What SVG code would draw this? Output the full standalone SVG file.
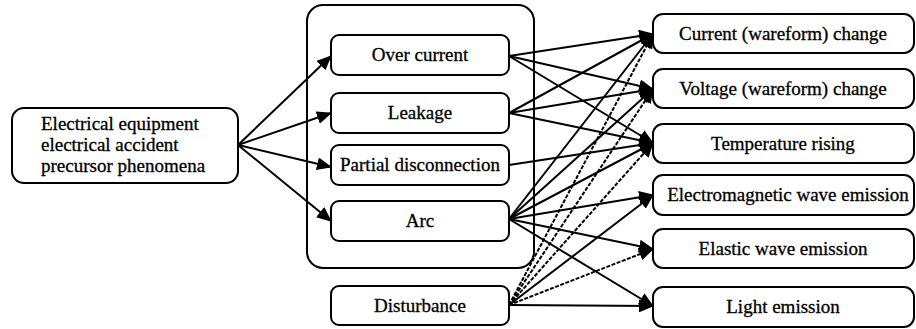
<svg xmlns="http://www.w3.org/2000/svg" width="916" height="329" viewBox="0 0 916 329">
<style>
.box{fill:#fff;stroke:#000;stroke-width:2}
.t{font-family:"Liberation Serif","DejaVu Serif","Noto Serif",Times,serif;font-size:19px;fill:#000;stroke:#000;stroke-width:0.3}
.c{text-anchor:middle}
.e{stroke:#000;stroke-width:2;fill:none;marker-end:url(#ah)}
.d{stroke-dasharray:4 1.5}
</style>
<defs>
<marker id="ah" markerUnits="userSpaceOnUse" markerWidth="15" markerHeight="13" refX="14" refY="6.5" orient="auto">
<path d="M0,0 L15,6.5 L0,13 z" fill="#000"/>
</marker>
</defs>
<rect id="container" class="box" x="307" y="5" width="227" height="263" rx="16"/>
<g id="source">
<rect class="box" x="12" y="108" width="226" height="75" rx="12"/>
<text class="t" x="41" y="130">Electrical equipment</text>
<text class="t" x="41" y="151">electrical accident</text>
<text class="t" x="41" y="172">precursor phenomena</text>
</g>
<g id="overcurrent"><rect class="box" x="331" y="35" width="178" height="40" rx="8"/><text class="t c" x="420" y="61">Over current</text></g>
<g id="leakage"><rect class="box" x="331" y="93" width="178" height="40" rx="8"/><text class="t c" x="420" y="119">Leakage</text></g>
<g id="partial"><rect class="box" x="331" y="145" width="178" height="40" rx="8"/><text class="t c" x="420" y="171">Partial disconnection</text></g>
<g id="arc"><rect class="box" x="331" y="201" width="178" height="40" rx="8"/><text class="t c" x="420" y="227">Arc</text></g>
<g id="disturbance"><rect class="box" x="331" y="286" width="178" height="39" rx="8"/><text class="t c" x="420" y="312">Disturbance</text></g>
<g id="current"><rect class="box" x="653" y="14" width="261" height="39" rx="10"/><text class="t c" x="783" y="40">Current (wareform) change</text></g>
<g id="voltage"><rect class="box" x="653" y="69" width="261" height="39" rx="10"/><text class="t c" x="783" y="95">Voltage (wareform) change</text></g>
<g id="temperature"><rect class="box" x="653" y="124" width="261" height="39" rx="10"/><text class="t c" x="783" y="150">Temperature rising</text></g>
<g id="em"><rect class="box" x="653" y="175" width="261" height="40" rx="10"/><text class="t c" x="788" y="201">Electromagnetic wave emission</text></g>
<g id="elastic"><rect class="box" x="653" y="229" width="261" height="39" rx="10"/><text class="t c" x="783" y="255">Elastic wave emission</text></g>
<g id="light"><rect class="box" x="653" y="287" width="261" height="40" rx="10"/><text class="t c" x="783" y="313">Light emission</text></g>
<g id="connectors">
<line class="e" x1="238" y1="145" x2="331" y2="56"/>
<line class="e" x1="238" y1="145" x2="331" y2="113"/>
<line class="e" x1="238" y1="145" x2="331" y2="167"/>
<line class="e" x1="238" y1="145" x2="331" y2="221"/>
<line class="e" x1="509" y1="56" x2="653" y2="34"/>
<line class="e" x1="509" y1="56" x2="653" y2="89"/>
<line class="e" x1="509" y1="56" x2="653" y2="143"/>
<line class="e" x1="509" y1="113" x2="653" y2="34"/>
<line class="e" x1="509" y1="113" x2="653" y2="89"/>
<line class="e" x1="509" y1="113" x2="653" y2="143"/>
<line class="e" x1="509" y1="165" x2="653" y2="143"/>
<line class="e" x1="509" y1="219" x2="653" y2="34"/>
<line class="e" x1="509" y1="219" x2="653" y2="89"/>
<line class="e" x1="509" y1="219" x2="653" y2="143"/>
<line class="e" x1="509" y1="219" x2="653" y2="195"/>
<line class="e" x1="509" y1="219" x2="653" y2="249"/>
<line class="e" x1="509" y1="219" x2="653" y2="306"/>
<line class="e d" x1="509" y1="305" x2="653" y2="34"/>
<line class="e d" x1="509" y1="305" x2="653" y2="89"/>
<line class="e d" x1="509" y1="305" x2="653" y2="143"/>
<line class="e" x1="509" y1="305" x2="653" y2="195"/>
<line class="e d" x1="509" y1="305" x2="653" y2="249"/>
<line class="e" x1="509" y1="305" x2="653" y2="306"/>
</g>
</svg>
